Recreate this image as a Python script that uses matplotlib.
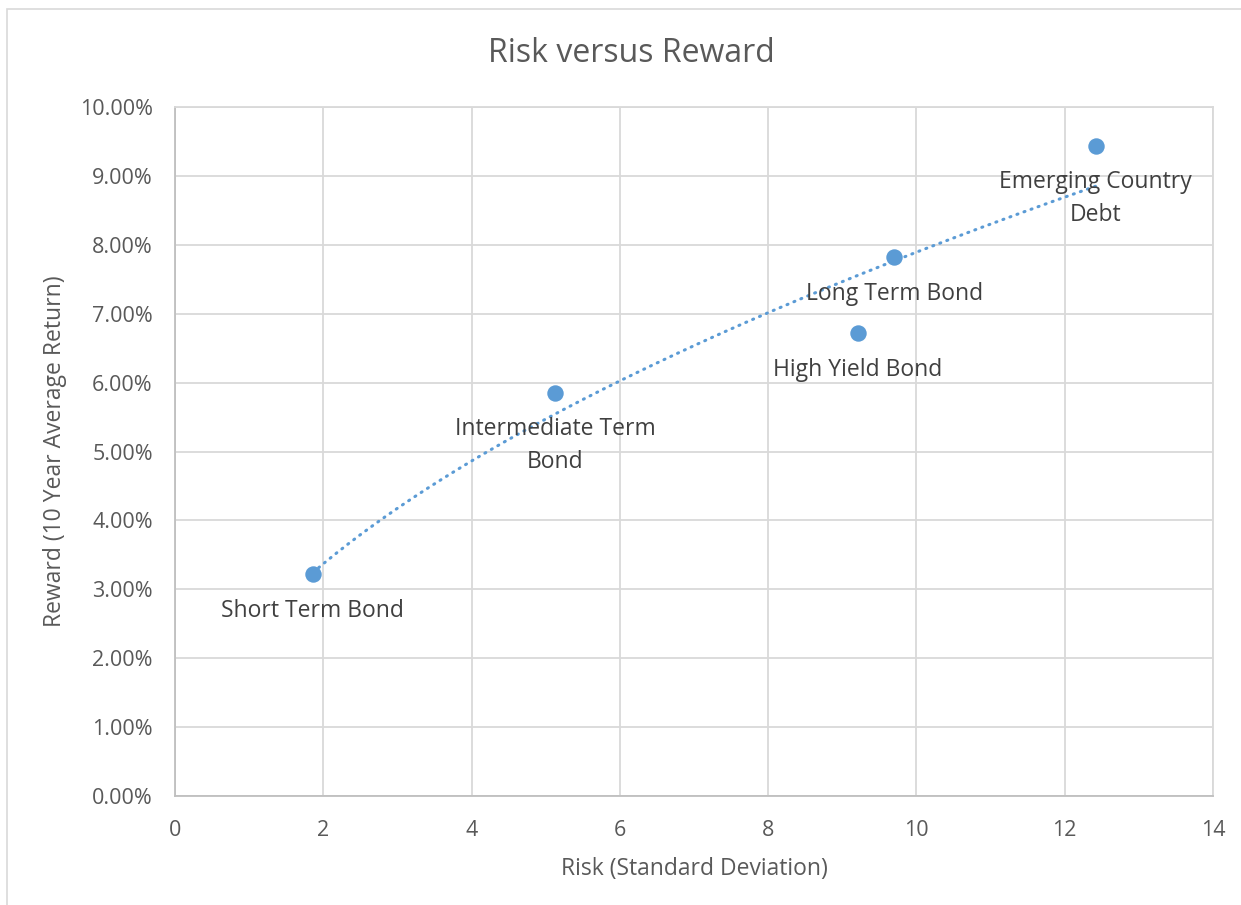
import numpy as np
import matplotlib
matplotlib.use("Agg")
import matplotlib.pyplot as plt
from matplotlib.ticker import PercentFormatter, MultipleLocator
from matplotlib.patches import Rectangle

plt.rcParams['font.family'] = ['Open Sans', 'DejaVu Sans']

# Bond categories: risk (std dev) vs 10-year average return
labels = ["Short Term Bond", "Intermediate Term\nBond", "High Yield Bond",
          "Long Term Bond", "Emerging Country\nDebt"]
risk = [1.86, 5.13, 9.21, 9.70, 12.42]
reward = [0.0322, 0.0585, 0.0672, 0.0782, 0.0944]

blue = "#5B9BD5"
grid_c = "#D9D9D9"
tick_c = "#595959"
text_c = "#404040"

fig = plt.figure(figsize=(12.41, 9.05), dpi=100)
ax = fig.add_axes([175/1241, 1-796/905, (1213-175)/1241, (796-107)/905])

# Chart frame
fig.patches.append(Rectangle((7/1241, -0.1), 1.2, 1.1-9/905, transform=fig.transFigure,
                             fill=False, edgecolor=grid_c, linewidth=1.2))

ax.set_xlim(0, 14)
ax.set_ylim(0, 0.10)
ax.xaxis.set_major_locator(MultipleLocator(2))
ax.yaxis.set_major_locator(MultipleLocator(0.01))
ax.yaxis.set_major_formatter(PercentFormatter(xmax=1, decimals=2))
ax.grid(True, color=grid_c, linewidth=1.3)
ax.set_axisbelow(True)
for side in ["top", "right"]:
    ax.spines[side].set_color(grid_c)
    ax.spines[side].set_linewidth(1.3)
for side in ["left", "bottom"]:
    ax.spines[side].set_color("#BFBFBF")
    ax.spines[side].set_linewidth(1.3)
ax.tick_params(length=0, labelsize=15.5, labelcolor=tick_c)
ax.tick_params(axis="y", pad=16)
ax.tick_params(axis="x", pad=17)

# Power trendline (least squares in log-log space)
xs = np.array(risk)
ys = np.array(reward)
b, ln_a = np.polyfit(np.log(xs), np.log(ys), 1)
xt = np.linspace(xs.min(), xs.max(), 200)
ax.plot(xt, np.exp(ln_a) * xt**b, color=blue, linewidth=2.2,
        linestyle=(0, (0.35, 2.1)), dash_capstyle="round", zorder=2)

ax.scatter(risk, reward, s=140, color=blue, zorder=3, linewidths=0)

for x, y, lab in zip(risk, reward, labels):
    nlines = lab.count("\n") + 1
    dy = -26.5 - 11.5 * (nlines - 1)
    ax.annotate(lab, (x, y), xytext=(0, dy), textcoords="offset points",
                ha="center", va="center", fontsize=16.5, color=text_c,
                linespacing=1.5, zorder=4)

# Title centred on the whole chart area
fig.text(631/1241, 1-53/905, "Risk versus Reward", fontsize=23, color=tick_c,
         ha="center", va="center")
ax.set_xlabel("Risk (Standard Deviation)", fontsize=16.5, color=tick_c, labelpad=12)
ax.set_ylabel("Reward (10 Year Average Return)", fontsize=16.5, color=tick_c, labelpad=9)

fig.savefig("out.png", dpi=100)
